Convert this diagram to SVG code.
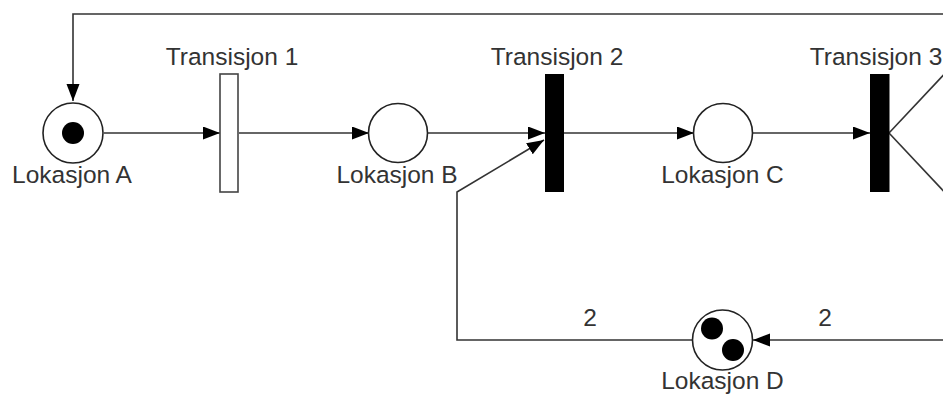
<svg xmlns="http://www.w3.org/2000/svg" width="943" height="396" viewBox="0 0 943 396">
  <defs>
    <style>
      .edge { fill: none; stroke: #333; stroke-width: 1.6; }
      .place { fill: #fff; stroke: #222; stroke-width: 1.6; }
      .token { fill: #000; }
      .lbl { font-family: "Liberation Sans", Arial, sans-serif; font-size: 24.5px; fill: #333; text-anchor: middle; }
    </style>
    <marker id="arr" markerUnits="userSpaceOnUse" markerWidth="18" markerHeight="14" refX="17" refY="6.5" orient="auto">
      <path d="M0,0 L17,6.5 L0,13 z" fill="#000"/>
    </marker>
  </defs>
  <rect width="943" height="396" fill="#fff"/>

  <g id="connectors">
    <polyline class="edge" points="950,14 73,14 73,101" marker-end="url(#arr)"/>
    <line class="edge" x1="104" y1="133" x2="220" y2="133" marker-end="url(#arr)"/>
    <line class="edge" x1="239" y1="133" x2="369" y2="133" marker-end="url(#arr)"/>
    <line class="edge" x1="428" y1="133" x2="545" y2="133" marker-end="url(#arr)"/>
    <line class="edge" x1="564" y1="133" x2="694" y2="133" marker-end="url(#arr)"/>
    <line class="edge" x1="753" y1="133" x2="870" y2="133" marker-end="url(#arr)"/>
    <line class="edge" x1="889" y1="133" x2="950" y2="68"/>
    <line class="edge" x1="889" y1="133" x2="950" y2="198"/>
    <line class="edge" x1="950" y1="340" x2="753" y2="340" marker-end="url(#arr)"/>
    <polyline class="edge" points="692,340 457,340 457,192 544,140" marker-end="url(#arr)"/>
    <text class="lbl" x="590" y="326">2</text>
    <text class="lbl" x="825" y="326">2</text>
  </g>

  <g id="lokasjon-a">
    <circle class="place" cx="73" cy="133" r="30"/>
    <circle class="token" cx="73" cy="133" r="11"/>
    <text class="lbl" x="72" y="183">Lokasjon A</text>
  </g>
  <g id="transisjon-1">
    <rect x="220" y="74" width="18" height="118" fill="#fff" stroke="#444" stroke-width="1.6"/>
    <text class="lbl" x="232" y="65">Transisjon 1</text>
  </g>
  <g id="lokasjon-b">
    <circle class="place" cx="398" cy="133" r="29.5"/>
    <text class="lbl" x="397" y="183">Lokasjon B</text>
  </g>
  <g id="transisjon-2">
    <rect x="545" y="74" width="19" height="118" fill="#000"/>
    <text class="lbl" x="557" y="65">Transisjon 2</text>
  </g>
  <g id="lokasjon-c">
    <circle class="place" cx="723" cy="133" r="29.5"/>
    <text class="lbl" x="722.5" y="183">Lokasjon C</text>
  </g>
  <g id="transisjon-3">
    <rect x="870" y="74" width="19.5" height="118" fill="#000"/>
    <text class="lbl" x="876" y="65">Transisjon 3</text>
  </g>
  <g id="lokasjon-d">
    <circle class="place" cx="722.5" cy="340" r="30"/>
    <circle class="token" cx="712" cy="328.5" r="11"/>
    <circle class="token" cx="733" cy="350" r="11"/>
    <text class="lbl" x="722.5" y="389">Lokasjon D</text>
  </g>
</svg>
